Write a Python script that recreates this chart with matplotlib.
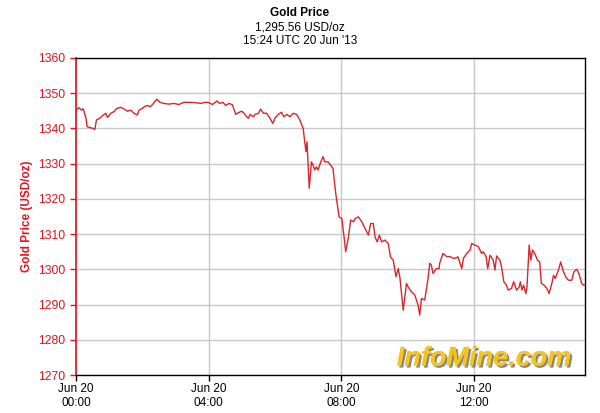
import matplotlib
matplotlib.use("Agg")
import matplotlib.pyplot as plt
import matplotlib.patheffects as pe

# minutes since 00:00 UTC, 20 Jun 2013
minutes = [1, 5, 10, 13, 18, 20, 27, 31, 34, 37, 43, 49, 54, 57, 63, 69, 74,
           81, 87, 93, 99, 105, 111, 114, 120, 124, 129, 135, 140, 146, 152,
           159, 168, 177, 186, 195, 207, 217, 226, 233, 239, 247, 255, 260,
           266, 271, 277, 283, 289, 294, 300, 304, 309, 312, 315, 321, 324,
           330, 334, 339, 345, 351, 356, 360, 366, 372, 376, 382, 387, 393,
           399, 405, 411, 416, 418, 422, 426, 429, 432, 435, 438, 443, 447,
           450, 456, 463, 465, 470, 476, 481, 485, 488, 493, 497, 502, 505,
           511, 517, 523, 529, 533, 538, 541, 545, 549, 553, 559, 565, 569,
           574, 579, 583, 586, 592, 598, 601, 607, 613, 619, 622, 625, 631,
           637, 640, 643, 646, 652, 657, 658, 664, 671, 677, 683, 689, 691,
           698, 701, 707, 713, 716, 722, 728, 734, 737, 742, 745, 749, 755,
           758, 761, 767, 770, 774, 779, 782, 788, 792, 797, 802, 804, 807,
           810, 814, 816, 820, 823, 826, 830, 835, 839, 842, 847, 852, 856,
           861, 864, 867, 873, 877, 882, 886, 891, 897, 901, 906, 910, 915,
           918, 921]
prices = [1345.2, 1345.9, 1345.2, 1345.6, 1342.9, 1340.5, 1340.2, 1340.0,
          1339.7, 1342.4, 1342.9, 1343.8, 1344.3, 1343.1, 1344.3, 1344.8,
          1345.7, 1346.0, 1345.5, 1344.9, 1345.2, 1344.3, 1343.8, 1345.2,
          1345.7, 1346.2, 1346.5, 1346.2, 1347.1, 1348.3, 1347.4, 1347.1,
          1346.9, 1347.1, 1346.8, 1347.4, 1347.4, 1347.3, 1347.1, 1347.4,
          1347.4, 1346.8, 1347.8, 1347.1, 1347.4, 1346.5, 1347.1, 1346.7,
          1344.0, 1344.5, 1344.9, 1344.3, 1343.3, 1342.9, 1344.0, 1343.3,
          1344.0, 1344.3, 1345.5, 1344.3, 1344.3, 1342.9, 1341.4, 1342.9,
          1344.0, 1344.6, 1343.3, 1344.0, 1343.3, 1344.3, 1344.0, 1342.4,
          1340.0, 1333.4, 1336.2, 1323.0, 1330.5, 1329.6, 1328.2, 1329.1,
          1328.2, 1330.5, 1332.0, 1330.5, 1330.5, 1329.1, 1328.6, 1321.5,
          1314.9, 1314.4, 1309.2, 1305.0, 1309.2, 1314.0, 1313.5, 1314.4,
          1314.9, 1313.5, 1311.6, 1309.7, 1313.0, 1313.0, 1309.2, 1307.8,
          1309.7, 1307.8, 1308.3, 1307.3, 1303.5, 1302.6, 1297.9, 1300.2,
          1297.8, 1288.4, 1296.0, 1295.0, 1293.6, 1292.7, 1289.8, 1287.0,
          1291.7, 1291.3, 1297.4, 1301.7, 1301.2, 1298.8, 1300.2, 1300.2,
          1301.7, 1304.5, 1303.6, 1303.6, 1303.1, 1303.3, 1303.6, 1300.2,
          1303.1, 1304.5, 1305.5, 1307.3, 1306.9, 1306.4, 1304.5, 1305.0,
          1303.6, 1300.2, 1304.0, 1302.6, 1299.8, 1303.8, 1302.6, 1300.7,
          1296.5, 1295.5, 1294.1, 1294.6, 1296.5, 1294.1, 1295.0, 1296.5,
          1294.1, 1295.5, 1293.1, 1295.0, 1306.9, 1302.6, 1305.5, 1304.5,
          1302.6, 1302.1, 1296.0, 1295.5, 1294.6, 1293.1, 1296.0, 1298.3,
          1297.4, 1299.8, 1302.1, 1299.3, 1297.9, 1296.9, 1296.9, 1299.3,
          1300.0, 1298.8, 1296.0, 1295.5, 1295.56]

x_ticks = [0, 240, 480, 720]
x_labels = ["Jun 20\n00:00", "Jun 20\n04:00", "Jun 20\n08:00", "Jun 20\n12:00"]
y_ticks = list(range(1270, 1361, 10))

RED = "#e0141e"
plt.rcParams['font.family'] = ['Liberation Sans', 'DejaVu Sans']


def main():
    fig = plt.figure(figsize=(6, 4.13), dpi=100)
    ax = fig.add_axes([0.1267, 0.092, 0.8483, 0.7676])

    ax.plot(minutes, prices, color="#d8262a", linewidth=1.0, zorder=3)

    ax.set_xlim(0, 921)
    ax.set_ylim(1270, 1360)
    ax.set_xticks(x_ticks)
    ax.set_xticklabels(x_labels, fontsize=8.5)
    ax.set_yticks(y_ticks)
    ax.set_yticklabels([str(v) for v in y_ticks], fontsize=8.8, color=RED)
    ax.tick_params(axis='y', colors=RED, length=4, width=1)
    ax.tick_params(axis='x', length=4, width=1, pad=2)
    ax.grid(True, color="#c8c8c8", linewidth=1.0, zorder=0)
    ax.set_axisbelow(True)

    ax.spines['left'].set_color(RED)
    ax.spines['left'].set_linewidth(1.2)
    for s in ['top', 'bottom', 'right']:
        ax.spines[s].set_color("black")
        ax.spines[s].set_linewidth(1.0)

    ax.set_ylabel("Gold Price (USD/oz)", color=RED, fontsize=8.5,
                  fontweight='bold', labelpad=4)

    fig.text(0.5, 0.983, "Gold Price", ha='center', va='top',
             fontsize=8.5, fontweight='bold')
    fig.text(0.5, 0.949, "1,295.56 USD/oz", ha='center', va='top',
             fontsize=8.5)
    fig.text(0.5, 0.915, "15:24 UTC 20 Jun '13", ha='center', va='top',
             fontsize=8.5)

    ax.text(0.802, 0.052, "InfoMine.com", transform=ax.transAxes,
            ha='center', va='center', fontsize=19.5, fontweight='bold',
            style='italic', color="#f7c51a", zorder=4,
            path_effects=[pe.withSimplePatchShadow(offset=(1.5, -1.5),
                                                   shadow_rgbFace="#555555",
                                                   alpha=0.7),
                          pe.Normal()])

    fig.savefig("out.png", dpi=100)


if __name__ == "__main__":
    main()
